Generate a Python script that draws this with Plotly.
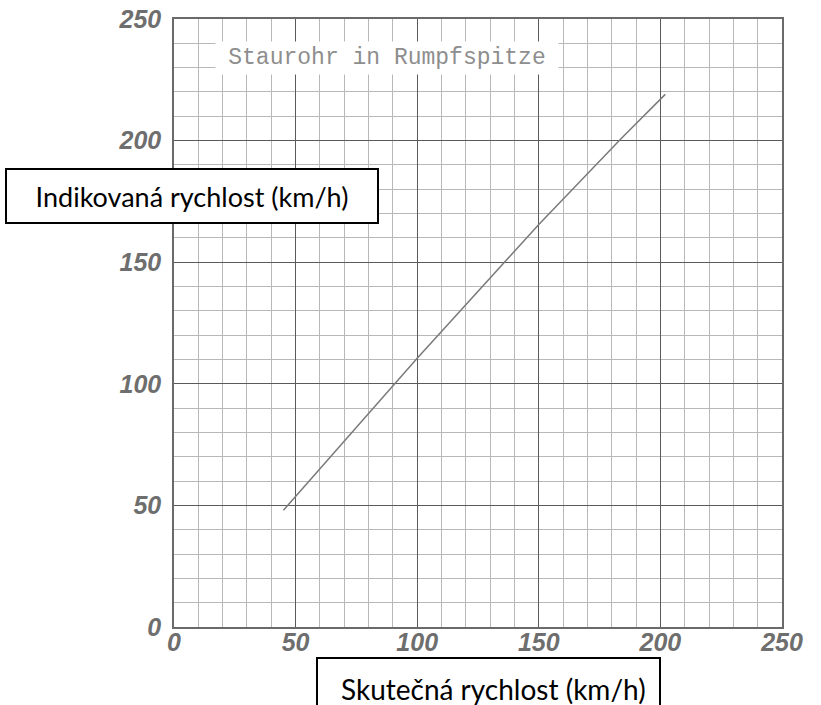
import plotly.graph_objects as go

actual_speed = [45, 100, 150, 184, 202]
indicated_speed = [48, 110.5, 165.5, 201, 219]

tick_vals = [0, 50, 100, 150, 200, 250]
tick_text = ["0", "50", "100", "150", "200", "250"]

title_text = "Staurohr in Rumpfspitze"
y_label = "Indikovaná rychlost (km/h)"
x_label = "Skutečná rychlost (km/h)"

# body margin is removed in the page, so the figure fills the window
W, H = 821, 705
L, T = 174, 19
PW, PH = 608, 608
R, B = W - L - PW, H - T - PH


def px(xp):
    # page pixel -> paper x
    return (xp - L) / PW


def py(yp):
    # page pixel -> paper y
    return (T + PH - yp) / PH


fig = go.Figure()
fig.add_trace(go.Scatter(
    x=actual_speed, y=indicated_speed, mode="lines",
    line=dict(color="#7a7a7a", width=1.5), showlegend=False, hoverinfo="skip",
))

tickfont = dict(family="Liberation Sans", size=25, color="#6e6e6e",
                style="italic", weight="bold")

axis_common = dict(
    range=[0, 250], tickvals=tick_vals, ticktext=tick_text,
    showgrid=True, gridcolor="#5a5a5a", gridwidth=1.4,
    minor=dict(dtick=10, showgrid=True, gridcolor="#b8b8b8", gridwidth=1),
    showline=True, mirror=True, linecolor="#6a6a6a", linewidth=1.5,
    zeroline=False, ticks="", tickfont=tickfont, fixedrange=True,
    ticklabeloverflow="allow", automargin=False,
)

fig.update_xaxes(**axis_common, ticklabelstandoff=-8)
fig.update_yaxes(**axis_common, ticklabelstandoff=6)

# Typewriter title on the graph paper
fig.add_annotation(
    x=px(387), y=py(58), xref="paper", yref="paper",
    text=title_text, showarrow=False,
    font=dict(family="Liberation Mono", size=23, color="#8e8e8e"),
    bgcolor="white", width=340, height=30,
    xanchor="center", yanchor="middle",
)

# Y label box
fig.add_annotation(
    x=px(191.5), y=py(196), xref="paper", yref="paper",
    text=y_label, showarrow=False,
    font=dict(family="Lato", size=27, color="black"),
    bgcolor="white", bordercolor="black", borderwidth=2,
    width=368, height=50, xanchor="center", yanchor="middle",
)

# X label box (extends past the bottom edge)
fig.add_shape(
    type="rect", xref="paper", yref="paper",
    x0=px(317), x1=px(660), y0=py(658), y1=py(730),
    line=dict(color="black", width=2), fillcolor="white", layer="above",
)
fig.add_annotation(
    x=px(493), y=py(689), xref="paper", yref="paper",
    text=x_label, showarrow=False,
    font=dict(family="Lato", size=28, color="black"),
    xanchor="center", yanchor="middle",
)

fig.update_layout(
    width=W, height=H, autosize=False,
    margin=dict(l=L, r=R, t=T, b=B, autoexpand=False),
    paper_bgcolor="white", plot_bgcolor="white",
)

fig.write_html(
    "out.html",
    config={"displayModeBar": False},
    post_script="document.body.style.margin='0';document.body.style.overflow='hidden';",
)
